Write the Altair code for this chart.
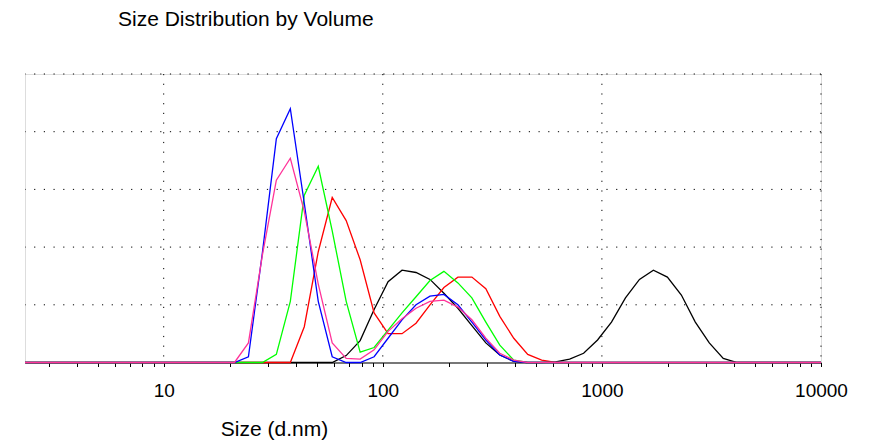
import altair as alt
import pandas as pd

TITLE = "Size Distribution by Volume"
X_TITLE = "Size (d.nm)"

SIZES = [2.328, 2.696, 3.122, 3.615, 4.187, 4.849, 5.615, 6.503, 7.531, 8.721,
         10.1, 11.7, 13.54, 15.69, 18.17, 21.04, 24.36, 28.21, 32.67, 37.84,
         43.82, 50.75, 58.77, 68.06, 78.82, 91.28, 105.7, 122.4, 141.8, 164.2,
         190.1, 220.2, 255.0, 295.3, 342.0, 396.1, 458.7, 531.2, 615.1, 712.4,
         825.0, 955.4, 1106, 1281, 1484, 1718, 1990, 2305, 2669, 3091,
         3580, 4145, 4801, 5560, 6439, 7456, 8635, 10000]

BLACK = [0, 0, 0, 0, 0, 0, 0, 0, 0, 0,
         0, 0, 0, 0, 0, 0, 0, 0, 0, 0,
         0, 0, 0, 0.6, 1.9, 4.6, 7.0, 8.0, 7.8, 7.2,
         6.0, 4.7, 3.2, 1.7, 0.65, 0.1, 0, 0, 0.05, 0.3,
         0.8, 1.95, 3.5, 5.6, 7.2, 8.0, 7.4, 5.85, 3.5, 1.7,
         0.35, 0, 0, 0, 0, 0, 0, 0]

RED = [0, 0, 0, 0, 0, 0, 0, 0, 0, 0,
       0, 0, 0, 0, 0, 0, 0, 0, 0, 0,
       3.1, 9.6, 14.3, 12.3, 8.9, 4.3, 2.5, 2.5, 3.4, 5.0,
       6.5, 7.4, 7.4, 6.4, 4.0, 2.1, 0.7, 0.2, 0, 0,
       0, 0, 0, 0, 0, 0, 0, 0, 0, 0,
       0, 0, 0, 0, 0, 0, 0, 0]

GREEN = [0, 0, 0, 0, 0, 0, 0, 0, 0, 0,
         0, 0, 0, 0, 0, 0, 0, 0, 0.7, 5.3,
         14.5, 17.0, 11.4, 5.3, 0.9, 1.3, 2.8, 4.3, 5.7, 7.1,
         7.9, 6.9, 5.6, 3.5, 1.5, 0.2, 0, 0, 0, 0,
         0, 0, 0, 0, 0, 0, 0, 0, 0, 0,
         0, 0, 0, 0, 0, 0, 0, 0]

BLUE = [0, 0, 0, 0, 0, 0, 0, 0, 0, 0,
        0, 0, 0, 0, 0, 0, 0.5, 9.5, 19.4, 22.0,
        13.8, 5.3, 0.5, 0, 0, 0.5, 2.1, 3.7, 5.0, 5.75,
        5.9, 5.0, 3.5, 1.95, 0.65, 0.1, 0, 0, 0, 0,
        0, 0, 0, 0, 0, 0, 0, 0, 0, 0,
        0, 0, 0, 0, 0, 0, 0, 0]

PINK = [0, 0, 0, 0, 0, 0, 0, 0, 0, 0,
        0, 0, 0, 0, 0, 0, 1.7, 9.3, 15.8, 17.7,
        13.1, 6.8, 1.7, 0.35, 0.3, 1.1, 2.7, 3.8, 4.7, 5.3,
        5.4, 4.8, 3.7, 2.1, 0.8, 0.2, 0, 0, 0, 0,
        0, 0, 0, 0, 0, 0, 0, 0, 0, 0,
        0, 0, 0, 0, 0, 0, 0, 0]

SERIES = [("Record 1", BLACK, "#000000"),
          ("Record 2", RED, "#FF0000"),
          ("Record 3", GREEN, "#00FF00"),
          ("Record 4", BLUE, "#0000FF"),
          ("Record 5", PINK, "#FF3399")]

X_TICKS = [3, 4, 5, 6, 7, 8, 9, 10, 20, 30, 40, 50, 60, 70, 80, 90,
           100, 200, 300, 400, 500, 600, 700, 800, 900,
           1000, 2000, 3000, 4000, 5000, 6000, 7000, 8000, 9000, 10000]
X_GRID = [10, 100, 1000, 10000]
Y_GRID = [5, 10, 15, 20, 25]
X_DOMAIN = [2.328, 10000]
Y_DOMAIN = [0, 25]

FONT = "Liberation Sans"

xscale = alt.Scale(type="log", domain=X_DOMAIN, nice=False)
yscale = alt.Scale(domain=Y_DOMAIN, nice=False, zero=True)

x_axis = alt.Axis(
    values=X_TICKS,
    labelExpr="indexof([10,100,1000,10000], datum.value) >= 0 ? format(datum.value, 'd') : ''",
    grid=False, tickSize=4, tickColor="#000", tickWidth=1,
    domainColor="#000", domainWidth=1,
    labelFont=FONT, labelFontSize=19, labelColor="#000", labelPadding=15,
    labelFlush=False, labelOverlap=False,
    title=X_TITLE, titleFont=FONT, titleFontSize=21, titleFontWeight="normal",
    titleColor="#000", titleX=249, titleY=56, titleAlign="center",
    titleBaseline="top",
)

dash = [1.2, 8.5]

xgrid = alt.Chart(pd.DataFrame({"v": X_GRID})).mark_rule(
    color="#000", strokeWidth=1, strokeDash=dash
).encode(x=alt.X("v:Q", scale=xscale, axis=x_axis))

ygrid = alt.Chart(pd.DataFrame({"v": Y_GRID})).mark_rule(
    color="#000", strokeWidth=1, strokeDash=dash
).encode(y=alt.Y("v:Q", scale=yscale, axis=None))

layers = [xgrid, ygrid]
for name, vals, col in SERIES:
    df = pd.DataFrame({"size": SIZES, "volume": vals, "record": name})
    layers.append(
        alt.Chart(df).mark_line(color=col, strokeWidth=1.3).encode(
            x=alt.X("size:Q", scale=xscale, axis=x_axis),
            y=alt.Y("volume:Q", scale=yscale, axis=None),
        )
    )

chart = alt.layer(*layers).properties(
    width=796,
    height=288.5,
    autosize="none",
    padding={"left": 17, "top": 66, "right": 40, "bottom": 78},
    title=alt.TitleParams(
        TITLE, anchor="start", frame="group", dx=93, offset=27,
        baseline="alphabetic", font=FONT, fontSize=21, fontWeight="normal",
        color="#000",
    ),
).configure_view(stroke=None).configure(background="white")

chart.save("out.html", embed_options={"renderer": "svg", "actions": False})
